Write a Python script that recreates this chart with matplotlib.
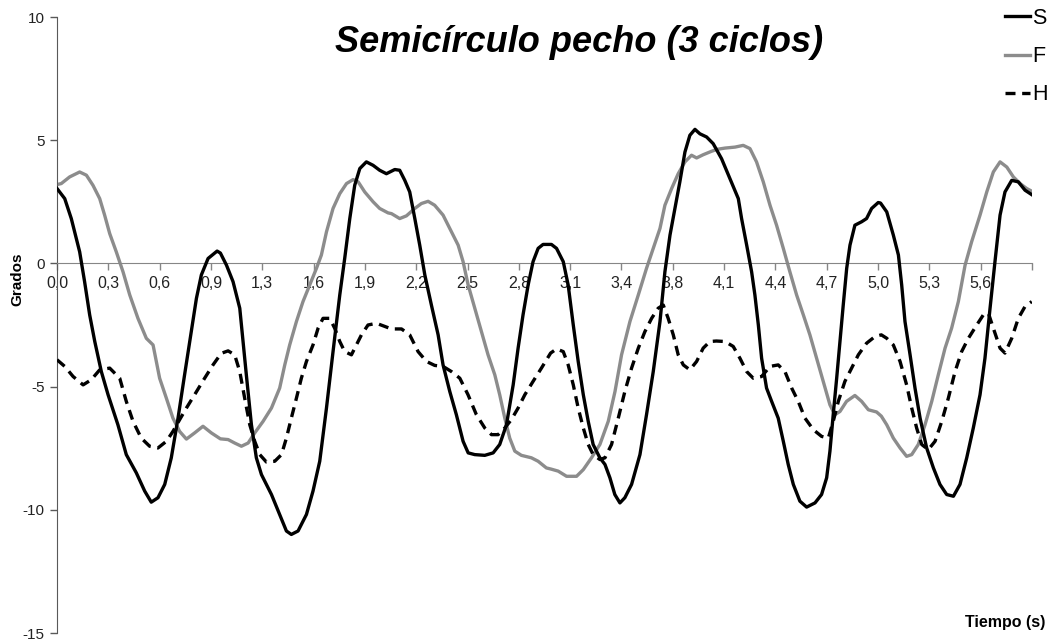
import numpy as np
import matplotlib
matplotlib.use('Agg')
import matplotlib.pyplot as plt
from matplotlib.lines import Line2D

plt.rcParams['font.family'] = ['Liberation Sans', 'DejaVu Sans']
plt.rcParams['axes.unicode_minus'] = False

# datos (tiempo en s, angulo en grados)
s_t = [0.000, 0.047, 0.087, 0.138, 0.168, 0.199, 0.230, 0.270, 0.311, 0.371, 0.422, 0.483,
       0.534, 0.574, 0.615, 0.656, 0.696, 0.737, 0.777, 0.818, 0.849, 0.879, 0.920, 0.975,
       0.995, 1.032, 1.072, 1.113, 1.133, 1.153, 1.184, 1.214, 1.245, 1.306, 1.356, 1.397,
       1.427, 1.468, 1.519, 1.559, 1.600, 1.641, 1.681, 1.722, 1.752, 1.783, 1.813, 1.844,
       1.884, 1.925, 1.965, 2.006, 2.057, 2.087, 2.118, 2.148, 2.179, 2.209, 2.240, 2.280,
       2.321, 2.351, 2.392, 2.432, 2.473, 2.504, 2.544, 2.605, 2.656, 2.696, 2.737, 2.778,
       2.808, 2.838, 2.869, 2.899, 2.930, 2.960, 3.011, 3.042, 3.083, 3.113, 3.144, 3.174,
       3.205, 3.235, 3.265, 3.306, 3.337, 3.367, 3.397, 3.428, 3.458, 3.499, 3.550, 3.590,
       3.631, 3.672, 3.702, 3.733, 3.763, 3.793, 3.824, 3.854, 3.885, 3.915, 3.956, 3.996,
       4.047, 4.098, 4.149, 4.169, 4.200, 4.230, 4.250, 4.271, 4.291, 4.321, 4.352, 4.392,
       4.423, 4.453, 4.484, 4.524, 4.565, 4.616, 4.656, 4.687, 4.707, 4.727, 4.748, 4.768,
       4.788, 4.809, 4.829, 4.859, 4.900, 4.930, 4.961, 5.001, 5.015, 5.053, 5.093, 5.124,
       5.144, 5.164, 5.195, 5.225, 5.256, 5.296, 5.337, 5.377, 5.418, 5.459, 5.499, 5.540,
       5.580, 5.621, 5.651, 5.682, 5.712, 5.743, 5.773, 5.814, 5.854, 5.895, 5.936]
s_v = [3.04, 2.63, 1.82, 0.47, -0.74, -2.09, -3.17, -4.39, -5.33, -6.55, -7.76, -8.50,
       -9.24, -9.69, -9.51, -8.97, -7.89, -6.28, -4.52, -2.77, -1.42, -0.47, 0.20, 0.50,
       0.42, -0.07, -0.74, -1.82, -3.17, -4.52, -6.55, -7.89, -8.57, -9.38, -10.19, -10.86,
       -11.00, -10.86, -10.19, -9.24, -8.03, -5.87, -3.58, -1.28, 0.20, 1.82, 3.17, 3.85,
       4.12, 3.98, 3.78, 3.64, 3.81, 3.78, 3.37, 2.90, 1.82, 0.74, -0.47, -1.69,
       -2.90, -4.12, -5.20, -6.14, -7.22, -7.69, -7.76, -7.79, -7.69, -7.35, -6.55, -4.93,
       -3.44, -2.09, -0.88, 0.07, 0.61, 0.77, 0.77, 0.61, 0.07, -0.88, -2.50, -3.98,
       -5.33, -6.41, -7.35, -7.89, -8.16, -8.70, -9.38, -9.72, -9.51, -8.97, -7.76, -6.14,
       -4.39, -2.36, -0.34, 1.15, 2.23, 3.31, 4.52, 5.20, 5.44, 5.26, 5.13, 4.86,
       4.25, 3.44, 2.63, 1.82, 0.74, -0.34, -1.28, -2.50, -3.85, -5.06, -5.60, -6.28,
       -7.22, -8.16, -8.97, -9.65, -9.89, -9.72, -9.38, -8.70, -7.62, -6.14, -4.66, -3.17,
       -1.69, -0.20, 0.74, 1.55, 1.69, 1.82, 2.23, 2.47, 2.45, 2.09, 1.15, 0.34,
       -0.88, -2.36, -3.71, -5.06, -6.28, -7.49, -8.30, -8.97, -9.38, -9.45, -8.97, -7.89,
       -6.68, -5.33, -3.85, -1.82, 0.07, 1.96, 2.90, 3.37, 3.31, 2.97, 2.79]

f_t = [0.000, 0.026, 0.077, 0.138, 0.179, 0.219, 0.260, 0.290, 0.321, 0.361, 0.402, 0.443,
       0.493, 0.544, 0.585, 0.625, 0.666, 0.706, 0.747, 0.788, 0.838, 0.889, 0.940, 0.995,
       1.042, 1.082, 1.123, 1.164, 1.204, 1.255, 1.306, 1.356, 1.387, 1.417, 1.458, 1.498,
       1.539, 1.580, 1.610, 1.641, 1.681, 1.722, 1.763, 1.803, 1.834, 1.874, 1.925, 1.965,
       2.016, 2.037, 2.087, 2.128, 2.179, 2.219, 2.260, 2.300, 2.351, 2.402, 2.443, 2.473,
       2.504, 2.544, 2.585, 2.625, 2.666, 2.696, 2.727, 2.757, 2.788, 2.828, 2.889, 2.930,
       2.980, 3.010, 3.052, 3.103, 3.164, 3.205, 3.255, 3.306, 3.357, 3.398, 3.438, 3.489,
       3.540, 3.590, 3.631, 3.672, 3.702, 3.743, 3.783, 3.824, 3.864, 3.895, 3.935, 3.986,
       4.020, 4.068, 4.129, 4.179, 4.220, 4.260, 4.301, 4.342, 4.382, 4.423, 4.463, 4.504,
       4.545, 4.585, 4.626, 4.666, 4.707, 4.737, 4.768, 4.808, 4.859, 4.900, 4.941, 4.991,
       5.020, 5.053, 5.093, 5.134, 5.174, 5.205, 5.245, 5.286, 5.327, 5.367, 5.408, 5.448,
       5.489, 5.530, 5.570, 5.621, 5.662, 5.702, 5.743, 5.784, 5.824, 5.865, 5.905, 5.936]
f_v = [3.20, 3.24, 3.51, 3.71, 3.58, 3.17, 2.63, 1.96, 1.21, 0.47, -0.34, -1.28,
       -2.23, -3.04, -3.31, -4.66, -5.47, -6.28, -6.82, -7.13, -6.88, -6.61, -6.88, -7.12,
       -7.15, -7.29, -7.42, -7.29, -6.88, -6.41, -5.87, -5.06, -4.12, -3.31, -2.36, -1.55,
       -0.88, -0.20, 0.34, 1.28, 2.23, 2.83, 3.24, 3.40, 3.31, 2.90, 2.50, 2.23,
       2.05, 2.02, 1.82, 1.93, 2.23, 2.43, 2.52, 2.36, 1.96, 1.28, 0.74, 0.07,
       -0.88, -1.82, -2.77, -3.71, -4.52, -5.33, -6.28, -7.09, -7.62, -7.79, -7.89, -8.03,
       -8.30, -8.35, -8.43, -8.64, -8.64, -8.37, -7.89, -7.35, -6.41, -5.20, -3.71, -2.36,
       -1.28, -0.20, 0.61, 1.42, 2.36, 3.04, 3.64, 4.12, 4.39, 4.28, 4.41, 4.55,
       4.63, 4.68, 4.72, 4.79, 4.66, 4.12, 3.31, 2.36, 1.55, 0.61, -0.34, -1.28,
       -2.09, -2.90, -3.85, -4.79, -5.74, -6.14, -6.01, -5.60, -5.36, -5.60, -5.94, -6.03,
       -6.20, -6.55, -7.09, -7.49, -7.83, -7.76, -7.35, -6.55, -5.60, -4.52, -3.44, -2.63,
       -1.55, -0.07, 0.88, 1.96, 2.90, 3.71, 4.12, 3.91, 3.51, 3.24, 3.04, 2.93]

h_t = [0.000, 0.047, 0.098, 0.159, 0.209, 0.260, 0.321, 0.382, 0.422, 0.463, 0.513, 0.564,
       0.615, 0.666, 0.706, 0.747, 0.788, 0.838, 0.899, 0.950, 1.000, 1.042, 1.082, 1.113,
       1.143, 1.174, 1.204, 1.235, 1.275, 1.326, 1.367, 1.397, 1.427, 1.458, 1.488, 1.519,
       1.559, 1.590, 1.620, 1.661, 1.691, 1.722, 1.752, 1.793, 1.823, 1.854, 1.894, 1.945,
       1.996, 2.037, 2.098, 2.148, 2.199, 2.250, 2.300, 2.351, 2.402, 2.453, 2.503, 2.554,
       2.605, 2.646, 2.686, 2.727, 2.767, 2.808, 2.849, 2.899, 2.950, 3.006, 3.042, 3.083,
       3.113, 3.144, 3.174, 3.205, 3.235, 3.265, 3.306, 3.337, 3.377, 3.418, 3.458, 3.499,
       3.540, 3.580, 3.621, 3.661, 3.692, 3.722, 3.753, 3.783, 3.814, 3.854, 3.895, 3.935,
       3.976, 4.015, 4.068, 4.118, 4.159, 4.200, 4.240, 4.291, 4.342, 4.392, 4.433, 4.474,
       4.514, 4.555, 4.606, 4.656, 4.697, 4.727, 4.758, 4.798, 4.839, 4.880, 4.930, 4.981,
       5.020, 5.053, 5.093, 5.134, 5.174, 5.205, 5.235, 5.266, 5.306, 5.347, 5.388, 5.428,
       5.469, 5.509, 5.550, 5.601, 5.641, 5.672, 5.702, 5.743, 5.773, 5.814, 5.854, 5.895,
       5.936]
h_v = [-3.91, -4.18, -4.59, -4.93, -4.72, -4.32, -4.25, -4.66, -5.60, -6.41, -7.09, -7.42,
       -7.49, -7.22, -6.82, -6.34, -5.87, -5.33, -4.66, -4.12, -3.65, -3.55, -3.71, -4.39,
       -5.47, -6.55, -7.22, -7.76, -8.06, -8.03, -7.76, -7.09, -6.28, -5.47, -4.66, -3.98,
       -3.31, -2.63, -2.23, -2.23, -2.63, -3.17, -3.58, -3.71, -3.31, -2.90, -2.50, -2.43,
       -2.56, -2.66, -2.66, -2.90, -3.58, -3.98, -4.14, -4.18, -4.39, -4.66, -5.33, -6.14,
       -6.68, -6.95, -6.95, -6.68, -6.34, -5.87, -5.33, -4.79, -4.25, -3.64, -3.47, -3.58,
       -4.12, -4.93, -5.87, -6.68, -7.35, -7.76, -7.96, -7.89, -7.35, -6.28, -5.20, -4.25,
       -3.44, -2.77, -2.23, -1.82, -1.69, -2.23, -2.90, -3.71, -4.12, -4.32, -3.98, -3.44,
       -3.17, -3.15, -3.17, -3.37, -3.85, -4.39, -4.66, -4.59, -4.18, -4.12, -4.39, -5.06,
       -5.60, -6.28, -6.75, -7.02, -7.09, -6.41, -5.60, -4.79, -4.25, -3.71, -3.24, -2.97,
       -2.90, -3.04, -3.31, -3.98, -4.93, -5.87, -6.68, -7.35, -7.56, -7.22, -6.41, -5.47,
       -4.39, -3.58, -3.04, -2.50, -2.09, -2.02, -2.63, -3.44, -3.64, -3.04, -2.23, -1.75,
       -1.55]

tick_labels = ['0,0', '0,3', '0,6', '0,9', '1,3', '1,6', '1,9', '2,2', '2,5', '2,8',
               '3,1', '3,4', '3,8', '4,1', '4,4', '4,7', '5,0', '5,3', '5,6', '']
tick_step = 0.3125  # segundos entre marcas
y_ticks = [-15, -10, -5, 0, 5, 10]

fig = plt.figure(figsize=(10.5, 6.42), dpi=100)
ax = fig.add_axes([57 / 1050, 1 - 633 / 642, 975 / 1050, 616 / 642])

lw = 2.4
ax.plot(f_t, f_v, color='#8c8c8c', lw=lw, solid_joinstyle='round', zorder=2, label='F')
ax.plot(s_t, s_v, color='black', lw=lw, solid_joinstyle='round', zorder=3, label='S')
ax.plot(h_t, h_v, color='black', lw=lw, linestyle=(0, (3, 2)), zorder=4, label='H')

ticks = tick_step * np.arange(len(tick_labels))
ax.set_xlim(0, ticks[-1])
ax.set_ylim(-15, 10)
ax.set_xticks(ticks)
ax.set_xticklabels(tick_labels)
ax.set_yticks(y_ticks)

ax.spines['top'].set_visible(False)
ax.spines['right'].set_visible(False)
ax.spines['bottom'].set_position(('data', 0))
ax.spines['bottom'].set_color('#868686')
ax.spines['left'].set_color('#595959')
ax.tick_params(axis='x', direction='out', length=5, width=1, color='#868686',
               labelsize=11.5, pad=4, labelcolor='#222222')
ax.tick_params(axis='y', direction='out', length=5, width=1, color='#595959',
               labelsize=11, pad=4, labelcolor='#222222')

ax.set_ylabel('Grados', fontsize=11, fontweight='bold')
ax.yaxis.set_label_coords(-0.033, 0.575)
ax.set_xlabel('Tiempo (s)', fontsize=11.5, fontweight='bold', ha='right')
ax.xaxis.set_label_coords(1.0135, 0.03)

fig.text(579 / 1050, 1 - 42 / 642, 'Semicírculo pecho (3 ciclos)', fontsize=26,
         fontweight='bold', fontstyle='italic', ha='center', va='center')

handles = [Line2D([], [], color='black', lw=lw),
           Line2D([], [], color='#8c8c8c', lw=lw),
           Line2D([], [], color='black', lw=lw, linestyle=(0, (3, 2)))]
fig.legend(handles, ['S', 'F', 'H'], loc='upper right', bbox_to_anchor=(1048 / 1050, 1 - 8 / 642),
           frameon=False, fontsize=15.5, handlelength=1.2, handletextpad=0.1,
           labelspacing=0.8, borderaxespad=0, borderpad=0)

fig.savefig('out.png', dpi=100)
